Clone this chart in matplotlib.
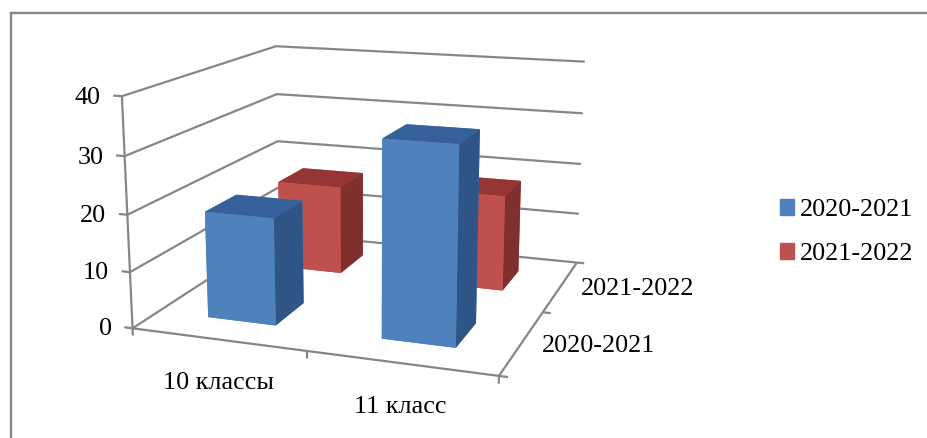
import matplotlib
matplotlib.use("Agg")
import matplotlib.pyplot as plt
from matplotlib.lines import Line2D
from matplotlib.patches import Patch

# данные диаграммы
categories = ["10 классы", "11 класс"]
series_names = ["2020-2021", "2021-2022"]
values_2020 = [19, 34]
values_2021 = [17, 18]
z_ticks = [0, 10, 20, 30, 40]

BLUE = ["#4F81BD", "#36609A", "#4F81BD", "#4F81BD", "#4F81BD", "#2F5587"]
RED = ["#C0504D", "#963634", "#C0504D", "#C0504D", "#C0504D", "#7F2F2D"]
LINE = "#868686"
FS = 18.8

W, H = 928, 438
plt.rcParams["font.family"] = ["Liberation Serif", "DejaVu Serif"]

fig = plt.figure(figsize=(W / 100, H / 100), dpi=100)
# положение осей подобрано под перспективу оригинала
ax = fig.add_axes([100.07 / W, -20.83 / H, 528.5 / W, 528.5 / H], projection="3d")
ax.set_xlim(0, 2)
ax.set_ylim(0, 2)
ax.set_zlim(0, 40)
ax.set_box_aspect((1.6, 1.569, 1))
ax.view_init(13.937, -70.504)
ax.set_proj_type("persp", focal_length=0.464)
ax.set_xticks([])
ax.set_yticks([])
ax.set_zticks([])
ax.set_axis_off()
ax.computed_zorder = False
ax.patch.set_alpha(0)


def seg(x, y, z, zo=1):
    ax.plot(x, y, z, color=LINE, lw=1.6, zorder=zo, solid_capstyle="butt")


# линии сетки на стенках
for z in z_ticks:
    seg([0, 0, 2], [0, 2, 2], [z, z, z])
    seg([-0.05, 0], [0, 0], [z, z])

# ось значений и пол
seg([0, 0], [0, 0], [0, 40])
seg([0, 2, 2], [0, 0, 2], [0, 0, 0])
for x in range(3):
    seg([x, x], [0, 0], [0, -1.3])
for y in range(3):
    seg([2, 2.045], [y, y], [0, 0])

# столбцы: сначала задний ряд, потом передний
zo = 2
for row, (vals, cols) in reversed(list(enumerate([(values_2020, BLUE), (values_2021, RED)]))):
    for i, v in enumerate(vals):
        ax.bar3d(i + 0.3, row + 0.3, 0, 0.4, 0.4, v, color=cols, shade=False,
                 edgecolor="none", linewidth=0, zorder=zo)
        zo += 1

# подписи осей
for z in z_ticks:
    ax.text(-0.125, 0, z - 0.6, str(z), ha="right", va="center", fontsize=FS, zorder=20)
for name, x, z in zip(categories, [0.497, 1.50], [-7.8, -7.4]):
    ax.text(x, 0, z, name, ha="center", va="center", fontsize=FS, zorder=20)
for name, x, y, z in zip(series_names, [2.393, 2.445], [0.5, 1.5], [0.9, 1.0]):
    ax.text(x, y, z, name, ha="center", va="center", fontsize=FS, zorder=20)

# легенда
handles = [Patch(color=BLUE[0]), Patch(color=RED[0])]
fig.legend(handles, series_names, loc="upper left", bbox_to_anchor=(780 / W, 1 - 199 / H),
           frameon=False, fontsize=FS, borderpad=0, borderaxespad=0, handlelength=0.54,
           handleheight=0.54, handletextpad=0.23, labelspacing=0.85)

# рамка диаграммы: видны только верх и левый край
fig.add_artist(Line2D([11 / W, 1], [1 - 13 / H, 1 - 13 / H], color=LINE, lw=1.7))
fig.add_artist(Line2D([11 / W, 11 / W], [0, 1 - 13 / H], color=LINE, lw=1.7))

fig.savefig("out.png", dpi=100)
